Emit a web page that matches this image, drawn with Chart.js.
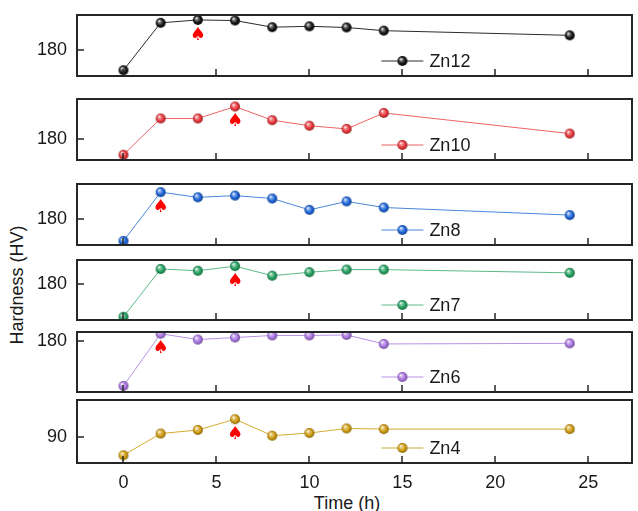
<!DOCTYPE html>
<html>
<head>
<meta charset="utf-8">
<script src="https://cdn.jsdelivr.net/npm/chart.js@4"></script>
<style>
  html, body { margin: 0; padding: 0; background: #fff; }
  #wrap { position: relative; width: 638px; height: 511px; overflow: hidden;
          font-family: "Liberation Sans", Arial, sans-serif; color: #1a1a1a; }
  #wrap canvas { position: absolute; left: 0; }
  .ytitle { position: absolute; left: 17px; top: 285px; font-size: 18px; white-space: nowrap;
            transform: translate(-50%, -50%) rotate(-90deg); }
  .xtitle { position: absolute; left: 347px; top: 503px; font-size: 18px; white-space: nowrap;
            transform: translate(-50%, -50%); }
</style>
</head>
<body>
<div id="wrap">
  <div class="ytitle">Hardness (HV)</div>
  <div class="xtitle">Time (h)</div>
</div>
<script>
// Ageing time (h)
const times = [0, 2, 4, 6, 8, 10, 12, 14, 24];

// Hardness (HV) per alloy
const zn12 = [173.0, 189.3, 190.3, 190.1, 187.8, 188.1, 187.7, 186.6, 185.0];
const zn10 = [174.7, 187.2, 187.2, 191.3, 186.6, 184.7, 183.6, 189.1, 182.0];
const zn8  = [172.4, 189.2, 187.4, 188.0, 187.0, 183.1, 186.0, 183.9, 181.3];
const zn7  = [168.9, 185.3, 184.7, 186.3, 183.0, 184.2, 185.1, 185.1, 184.0];
const zn6  = [164.7, 182.6, 180.6, 181.3, 182.0, 182.0, 182.2, 179.1, 179.3];
const zn4  = [83.8, 91.0, 92.2, 95.8, 90.3, 91.2, 92.7, 92.5, 92.5];

const seriesNames  = ['Zn12', 'Zn10', 'Zn8', 'Zn7', 'Zn6', 'Zn4'];
const seriesValues = [zn12, zn10, zn8, zn7, zn6, zn4];
// index of the peak-hardness time marked with a spade
const peakIndex    = [2, 3, 1, 3, 1, 3];

// axis ticks and ranges
const xTickValues = [0, 5, 10, 15, 20, 25];
const yTickValues = [180, 180, 180, 180, 180, 90];
const yRanges = [[171.0, 192.0], [172.9, 193.9], [171.0, 192.0], [167.8, 188.4], [162.6, 183.2], [81.2, 102.2]];

// styling
const markerColors = ['#141414', '#e8363a', '#1c64d8', '#23a060', '#a874e0', '#d09c10'];
const lineColors   = ['#2a2a2a', '#ec6464', '#4a86d8', '#5cb888', '#b890e6', '#d4aa30'];
const panelTops    = [15, 99, 184, 260, 332, 400];
const panelBottoms = [78, 162, 247, 322, 394, 463];

Chart.defaults.font.family = '"Liberation Sans", Arial, sans-serif';
Chart.defaults.color = '#1a1a1a';

function shade(hex, f) {
  const n = parseInt(hex.slice(1), 16);
  let r = (n >> 16) & 255, g = (n >> 8) & 255, b = n & 255;
  if (f >= 0) { r += (255 - r) * f; g += (255 - g) * f; b += (255 - b) * f; }
  else { r *= 1 + f; g *= 1 + f; b *= 1 + f; }
  return `rgb(${Math.round(r)},${Math.round(g)},${Math.round(b)})`;
}

// glossy ball used as point style
function sphere(color, r) {
  const s = Math.ceil(r * 2 + 2);
  const c = document.createElement('canvas');
  c.width = s; c.height = s;
  const g = c.getContext('2d');
  const cx = s / 2, cy = s / 2;
  const grad = g.createRadialGradient(cx - r * 0.35, cy - r * 0.4, r * 0.05, cx, cy, r);
  grad.addColorStop(0, '#ffffff');
  grad.addColorStop(0.25, shade(color, 0.45));
  grad.addColorStop(0.65, color);
  grad.addColorStop(1, shade(color, -0.35));
  g.fillStyle = grad;
  g.beginPath(); g.arc(cx, cy, r, 0, Math.PI * 2); g.fill();
  return c;
}

const panelDecor = {
  id: 'panelDecor',
  afterDatasetsDraw(chart, args, opts) {
    const { ctx, chartArea: a, scales: { x, y } } = chart;
    const ds = chart.data.datasets[0];
    ctx.save();

    // peak marker under the peak point
    const pk = ds.data[opts.peak];
    ctx.fillStyle = '#ff0000';
    ctx.font = 'bold 18px "DejaVu Sans"';
    ctx.textAlign = 'center';
    ctx.textBaseline = 'middle';
    ctx.fillText('\u2660', x.getPixelForValue(pk.x), y.getPixelForValue(pk.y) + 15);

    // frame
    ctx.strokeStyle = '#262626';
    ctx.lineWidth = 2;
    ctx.strokeRect(a.left, a.top, a.width, a.height);

    // inward tick marks
    ctx.lineWidth = 1.5;
    ctx.beginPath();
    x.ticks.forEach(t => {
      const p = Math.round(x.getPixelForValue(t.value));
      ctx.moveTo(p, a.bottom); ctx.lineTo(p, a.bottom - 7);
    });
    y.ticks.forEach(t => {
      const p = Math.round(y.getPixelForValue(t.value));
      ctx.moveTo(a.left, p); ctx.lineTo(a.left + 7, p);
    });
    ctx.stroke();

    // legend entry
    const lx = x.getPixelForValue(15);
    const ly = a.bottom - 15;
    ctx.strokeStyle = ds.borderColor;
    ctx.lineWidth = 1;
    ctx.beginPath();
    ctx.moveTo(lx - 21, ly); ctx.lineTo(lx + 21, ly);
    ctx.stroke();
    const img = ds.pointStyle;
    ctx.drawImage(img, lx - img.width / 2, ly - img.height / 2);
    ctx.fillStyle = '#1a1a1a';
    ctx.font = '18px "Liberation Sans", Arial, sans-serif';
    ctx.textAlign = 'left';
    ctx.textBaseline = 'middle';
    ctx.fillText(ds.label, lx + 27, ly + 1);
    ctx.restore();
  }
};

const wrap = document.getElementById('wrap');
const PAD_TOP = 6;

seriesNames.forEach((name, i) => {
  const last = i === seriesNames.length - 1;
  const xAxisH = last ? 511 - panelBottoms[i] : 4;
  const canvas = document.createElement('canvas');
  canvas.width = 638;
  canvas.height = panelBottoms[i] - panelTops[i] + PAD_TOP + xAxisH;
  canvas.style.top = (panelTops[i] - PAD_TOP) + 'px';
  wrap.appendChild(canvas);

  new Chart(canvas, {
    type: 'line',
    data: {
      datasets: [{
        label: name,
        data: times.map((t, k) => ({ x: t, y: seriesValues[i][k] })),
        borderColor: lineColors[i],
        borderWidth: 1,
        pointStyle: sphere(markerColors[i], 5),
        pointRadius: 5,
        pointHoverRadius: 5,
        tension: 0,
        fill: false
      }]
    },
    options: {
      responsive: false,
      animation: false,
      devicePixelRatio: 1,
      events: [],
      layout: { padding: { top: PAD_TOP, right: 3, left: 0, bottom: 0 } },
      plugins: {
        legend: { display: false },
        tooltip: { enabled: false },
        panelDecor: { peak: peakIndex[i] }
      },
      scales: {
        x: {
          type: 'linear',
          min: -2.5,
          max: 27.35,
          grid: { display: false, drawTicks: false },
          border: { display: false },
          afterBuildTicks: s => { s.ticks = xTickValues.map(v => ({ value: v })); },
          afterFit: s => {
            s.height = xAxisH;
            s.paddingLeft = 0; s.paddingRight = 0;
            s.paddingTop = 0; s.paddingBottom = 0;
          },
          ticks: {
            display: last,
            padding: 9,
            font: { size: 18 },
            color: '#1a1a1a',
            maxRotation: 0
          }
        },
        y: {
          type: 'linear',
          min: yRanges[i][0],
          max: yRanges[i][1],
          grid: { display: false, drawTicks: false },
          border: { display: false },
          afterBuildTicks: s => { s.ticks = [{ value: yTickValues[i] }]; },
          afterFit: s => {
            s.width = 77;
            s.paddingTop = 0; s.paddingBottom = 0;
            s.paddingLeft = 0; s.paddingRight = 0;
          },
          ticks: {
            padding: 10,
            font: { size: 18 },
            color: '#1a1a1a'
          }
        }
      }
    },
    plugins: [panelDecor]
  });
});
</script>
</body>
</html>
